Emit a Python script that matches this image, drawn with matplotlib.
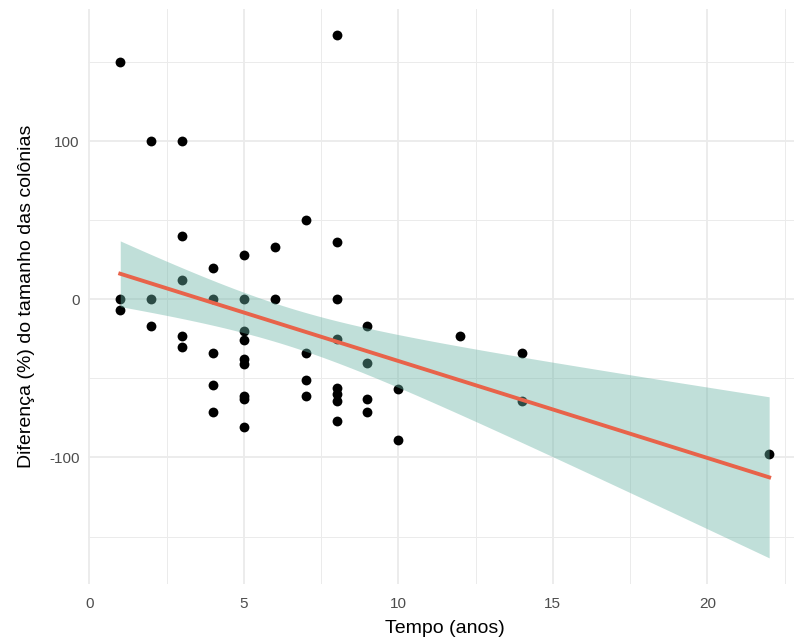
import numpy as np
import matplotlib
matplotlib.use("Agg")
import matplotlib.pyplot as plt
from matplotlib.ticker import MultipleLocator

# Tempo (anos) e diferença (%) no tamanho das colônias
tempo = [1, 1, 1,
         2, 2, 2,
         3, 3, 3, 3, 3,
         4, 4, 4, 4, 4,
         5, 5, 5, 5, 5, 5, 5, 5, 5,
         6, 6,
         7, 7, 7, 7,
         8, 8, 8, 8, 8, 8, 8, 8,
         9, 9, 9, 9,
         10, 10,
         12,
         14, 14,
         22]
diferenca = [150, 0, -7,
             100, 0, -17,
             100, 40, 12, -23, -30,
             20, 0, -34, -54, -71,
             28, 0, -20, -26, -38, -41, -61, -63, -81,
             33, 0,
             50, -34, -51, -61,
             167, 36, 0, -25, -56, -60, -64, -77,
             -17, -40, -63, -71,
             -57, -89,
             -23,
             -34, -64,
             -98]

x_ticks = [0, 5, 10, 15, 20]
y_ticks = [-100, 0, 100]
x_title = "Tempo (anos)"
y_title = "Diferença (%) do tamanho das colônias"

# multiplicador do erro padrão para a faixa em torno da reta
T_MULT = 1.61

x = np.asarray(tempo, dtype=float)
y = np.asarray(diferenca, dtype=float)
n = len(x)

# Regressão linear e faixa de confiança
b1, b0 = np.polyfit(x, y, 1)
resid = y - (b0 + b1 * x)
s = np.sqrt(np.sum(resid ** 2) / (n - 2))
sxx = np.sum((x - x.mean()) ** 2)
xg = np.linspace(x.min(), x.max(), 200)
yg = b0 + b1 * xg
se = s * np.sqrt(1.0 / n + (xg - x.mean()) ** 2 / sxx)
lo = yg - T_MULT * se
hi = yg + T_MULT * se

plt.rcParams["font.family"] = ["Liberation Sans", "DejaVu Sans"]

fig = plt.figure(figsize=(7.94, 6.42), dpi=100)
ax = fig.add_axes([87.8 / 794, 58 / 642, 713.8 / 794, 575 / 642])

# Grade no estilo minimal
grid_col = "#EBEBEB"
ax.xaxis.set_major_locator(MultipleLocator(5))
ax.xaxis.set_minor_locator(MultipleLocator(2.5))
ax.yaxis.set_major_locator(MultipleLocator(100))
ax.yaxis.set_minor_locator(MultipleLocator(50))
ax.grid(which="major", color=grid_col, linewidth=1.3)
ax.grid(which="minor", color=grid_col, linewidth=0.7)
ax.set_axisbelow(True)
for sp in ax.spines.values():
    sp.set_visible(False)
ax.tick_params(which="both", length=0)

ax.scatter(x, y, s=50, color="black", linewidths=0, zorder=2)
ax.fill_between(xg, lo, hi, color="#69B4A5", alpha=0.42, linewidth=0, zorder=3)
ax.plot(xg, yg, color="#E8634A", linewidth=2.8, zorder=4)

# Limites com expansão de 5%
xr = x.max() - x.min()
ax.set_xlim(x.min() - 0.05 * xr, x.max() + 0.05 * xr)
ymin = min(y.min(), lo.min())
ymax = max(y.max(), hi.max())
yr = ymax - ymin
ax.set_ylim(ymin - 0.05 * yr, ymax + 0.05 * yr)

ax.set_xticks(x_ticks)
ax.set_yticks(y_ticks)
ax.set_xticklabels([str(v) for v in x_ticks])
ax.set_yticklabels([str(v) for v in y_ticks])
ax.tick_params(axis="x", labelsize=11, labelcolor="#4D4D4D", pad=9)
ax.tick_params(axis="y", labelsize=11, labelcolor="#4D4D4D", pad=6)

ax.set_xlabel(x_title, fontsize=14, color="black", labelpad=7)
ax.set_ylabel(y_title, fontsize=14, color="black", labelpad=10)

fig.savefig("out.png", dpi=100)
